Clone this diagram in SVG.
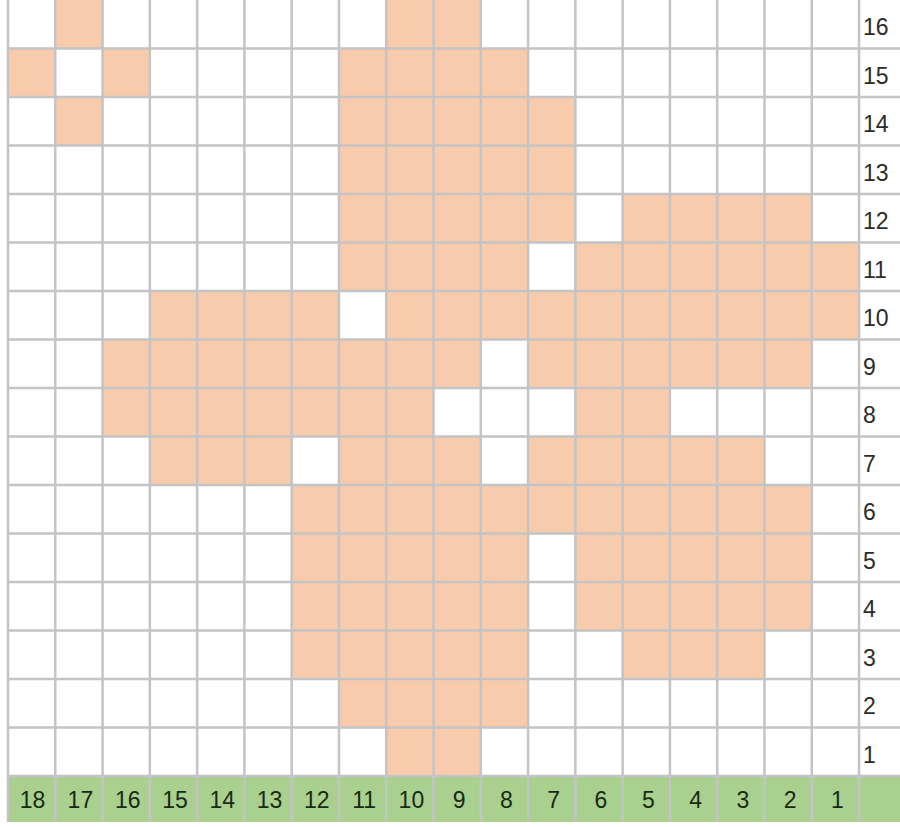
<svg xmlns="http://www.w3.org/2000/svg" width="900" height="827" viewBox="0 0 900 827">
<style>
.f{fill:#f8cbad}
.g{fill:#a9d08e}
.ln{stroke:#c4c4c4;stroke-width:2.5;fill:none}
.t{font-family:"Liberation Sans",Arial,sans-serif;font-size:23px;fill:#2b2b2b}
.b{font-family:"Liberation Sans",Arial,sans-serif;font-size:23px;fill:#182a14;text-anchor:middle}
</style>
<rect x="0" y="0" width="900" height="827" fill="#ffffff"/>
<g id="cells">
<rect class="f" x="55.28" y="0" width="47.28" height="48.5"/>
<rect class="f" x="386.24" y="0" width="94.56" height="48.5"/>
<rect class="f" x="8" y="48.5" width="47.28" height="48.5"/>
<rect class="f" x="102.56" y="48.5" width="47.28" height="48.5"/>
<rect class="f" x="338.96" y="48.5" width="189.12" height="48.5"/>
<rect class="f" x="55.28" y="97" width="47.28" height="48.5"/>
<rect class="f" x="338.96" y="97" width="236.4" height="48.5"/>
<rect class="f" x="338.96" y="145.5" width="236.4" height="48.5"/>
<rect class="f" x="338.96" y="194" width="236.4" height="48.5"/>
<rect class="f" x="622.64" y="194" width="189.12" height="48.5"/>
<rect class="f" x="338.96" y="242.5" width="189.12" height="48.5"/>
<rect class="f" x="575.36" y="242.5" width="283.68" height="48.5"/>
<rect class="f" x="149.84" y="291" width="189.12" height="48.5"/>
<rect class="f" x="386.24" y="291" width="472.8" height="48.5"/>
<rect class="f" x="102.56" y="339.5" width="378.24" height="48.5"/>
<rect class="f" x="528.08" y="339.5" width="283.68" height="48.5"/>
<rect class="f" x="102.56" y="388" width="330.96" height="48.5"/>
<rect class="f" x="575.36" y="388" width="94.56" height="48.5"/>
<rect class="f" x="149.84" y="436.5" width="141.84" height="48.5"/>
<rect class="f" x="338.96" y="436.5" width="141.84" height="48.5"/>
<rect class="f" x="528.08" y="436.5" width="236.4" height="48.5"/>
<rect class="f" x="291.68" y="485" width="520.08" height="48.5"/>
<rect class="f" x="291.68" y="533.5" width="236.4" height="48.5"/>
<rect class="f" x="575.36" y="533.5" width="236.4" height="48.5"/>
<rect class="f" x="291.68" y="582" width="236.4" height="48.5"/>
<rect class="f" x="575.36" y="582" width="236.4" height="48.5"/>
<rect class="f" x="291.68" y="630.5" width="236.4" height="48.5"/>
<rect class="f" x="622.64" y="630.5" width="141.84" height="48.5"/>
<rect class="f" x="338.96" y="679" width="189.12" height="48.5"/>
<rect class="f" x="386.24" y="727.5" width="94.56" height="48.5"/>
<rect class="g" x="8" y="776" width="892" height="46"/>
</g>
<g id="grid" class="ln">
<path d="M8 0V822M55.28 0V822M102.56 0V822M149.84 0V822M197.12 0V822M244.4 0V822M291.68 0V822M338.96 0V822M386.24 0V822M433.52 0V822M480.8 0V822M528.08 0V822M575.36 0V822M622.64 0V822M669.92 0V822M717.2 0V822M764.48 0V822M811.76 0V822M859.04 0V822"/>
<path d="M8 48.5H900M8 97H900M8 145.5H900M8 194H900M8 242.5H900M8 291H900M8 339.5H900M8 388H900M8 436.5H900M8 485H900M8 533.5H900M8 582H900M8 630.5H900M8 679H900M8 727.5H900M8 776H900"/>
</g>
<g id="row-labels" class="t">
<text x="863" y="35">16</text>
<text x="863" y="83.5">15</text>
<text x="863" y="132">14</text>
<text x="863" y="180.5">13</text>
<text x="863" y="229">12</text>
<text x="863" y="277.5">11</text>
<text x="863" y="326">10</text>
<text x="863" y="374.5">9</text>
<text x="863" y="423">8</text>
<text x="863" y="471.5">7</text>
<text x="863" y="520">6</text>
<text x="863" y="568.5">5</text>
<text x="863" y="617">4</text>
<text x="863" y="665.5">3</text>
<text x="863" y="714">2</text>
<text x="863" y="762.5">1</text>
</g>
<g id="col-labels" class="b">
<text x="32.6" y="808">18</text>
<text x="80.4" y="808">17</text>
<text x="127.7" y="808">16</text>
<text x="175" y="808">15</text>
<text x="222.3" y="808">14</text>
<text x="269.5" y="808">13</text>
<text x="316.8" y="808">12</text>
<text x="364.1" y="808">11</text>
<text x="411.4" y="808">10</text>
<text x="459.2" y="808">9</text>
<text x="506.4" y="808">8</text>
<text x="553.7" y="808">7</text>
<text x="601" y="808">6</text>
<text x="648.3" y="808">5</text>
<text x="695.6" y="808">4</text>
<text x="742.8" y="808">3</text>
<text x="790.1" y="808">2</text>
<text x="837.4" y="808">1</text>
</g>
</svg>
